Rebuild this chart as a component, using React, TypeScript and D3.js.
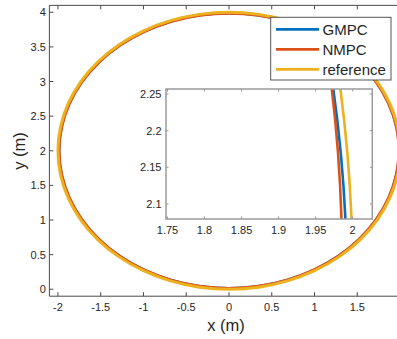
import React from "react";
import * as d3 from "d3";

// Reference trajectory (circle), sampled points
const refX = [2.0, 1.9696, 1.8794, 1.7321, 1.5321, 1.2856, 1.0, 0.684, 0.3473, 0.0, -0.3473, -0.684, -1.0, -1.2856, -1.5321, -1.7321, -1.8794, -1.9696, -2.0, -1.9696, -1.8794, -1.7321, -1.5321, -1.2856, -1.0, -0.684, -0.3473, 0.0, 0.3473, 0.684, 1.0, 1.2856, 1.5321, 1.7321, 1.8794, 1.9696];
const refY = [2.0, 2.3473, 2.684, 3.0, 3.2856, 3.5321, 3.7321, 3.8794, 3.9696, 4.0, 3.9696, 3.8794, 3.7321, 3.5321, 3.2856, 3.0, 2.684, 2.3473, 2.0, 1.6527, 1.316, 1.0, 0.7144, 0.4679, 0.2679, 0.1206, 0.0304, 0.0, 0.0304, 0.1206, 0.2679, 0.4679, 0.7144, 1.0, 1.316, 1.6527];

const gmpcX = [1.992, 1.9598, 1.87, 1.7234, 1.5244, 1.2792, 0.995, 0.6806, 0.3456, 0.0, -0.3456, -0.6806, -0.995, -1.2792, -1.5244, -1.7234, -1.87, -1.9598, -1.99, -1.9598, -1.87, -1.7234, -1.5244, -1.2792, -0.995, -0.6806, -0.3456, 0.0, 0.3456, 0.6806, 0.995, 1.2792, 1.5244, 1.7234, 1.87, 1.9598];
const gmpcY = [2.0, 2.3456, 2.6806, 2.995, 3.2792, 3.5244, 3.7234, 3.87, 3.9598, 3.99, 3.9598, 3.87, 3.7234, 3.5244, 3.2792, 2.995, 2.6806, 2.3456, 2.0, 1.6544, 1.3194, 1.005, 0.7208, 0.4756, 0.2766, 0.13, 0.0402, 0.01, 0.0402, 0.13, 0.2766, 0.4756, 0.7208, 1.005, 1.3194, 1.6544];

const nmpcX = [1.986, 1.9588, 1.8672, 1.7208, 1.5221, 1.2772, 0.9935, 0.6796, 0.345, 0.0, -0.345, -0.6796, -0.9935, -1.2772, -1.5221, -1.7208, -1.8672, -1.9568, -1.987, -1.9568, -1.8672, -1.7208, -1.5221, -1.2772, -0.9935, -0.6796, -0.345, 0.0, 0.345, 0.6796, 0.9935, 1.2772, 1.5221, 1.7208, 1.8672, 1.9568];
const nmpcY = [2.0, 2.3454, 2.6796, 2.9935, 3.2772, 3.5221, 3.7208, 3.8672, 3.9568, 3.987, 3.9568, 3.8672, 3.7208, 3.5221, 3.2772, 2.9935, 2.6796, 2.345, 2.0, 1.655, 1.3204, 1.0065, 0.7228, 0.4779, 0.2792, 0.1328, 0.0432, 0.013, 0.0432, 0.1328, 0.2792, 0.4779, 0.7228, 1.0065, 1.3204, 1.655];

const seriesNames = ["GMPC", "NMPC", "reference"];
const seriesColors = ["#0072BD", "#D95319", "#EDB120"];

const mainXTicks = [-2, -1.5, -1, -0.5, 0, 0.5, 1, 1.5];
const mainYTicks = [0, 0.5, 1, 1.5, 2, 2.5, 3, 3.5, 4];
const insetXTicks = [1.75, 1.8, 1.85, 1.9, 1.95, 2];
const insetYTicks = [2.1, 2.15, 2.2, 2.25];

const FONT = "'Liberation Sans', Arial, Helvetica, sans-serif";

export default function App() {
  const W = 397, H = 339;
  const x = d3.scaleLinear().domain([-2.1, 2.1]).range([49.4, 408.6]);
  const y = d3.scaleLinear().domain([-0.1, 4.1]).range([296.2, 5.35]);
  const ix = d3.scaleLinear().domain([1.748, 2.0265]).range([166, 372.3]);
  const iy = d3.scaleLinear().domain([2.0794, 2.2569]).range([219, 89]);

  const series = [
    { xs: gmpcX, ys: gmpcY },
    { xs: nmpcX, ys: nmpcY },
    { xs: refX, ys: refY },
  ];

  const mkLine = (sx: any, sy: any) =>
    d3
      .line<[number, number]>()
      .x((d) => sx(d[0]))
      .y((d) => sy(d[1]))
      .curve(d3.curveCatmullRomClosed.alpha(0.5));

  const mainLine = mkLine(x, y);
  const insetLine = mkLine(ix, iy);
  const pts = (s: { xs: number[]; ys: number[] }) =>
    s.xs.map((v, i) => [v, s.ys[i]] as [number, number]);

  const axisColor = "#4a4a4a";
  const insetAxisColor = "#9a9a9a";
  const textColor = "#262626";
  const [x0, x1] = x.range();
  const [y0, y1] = y.range();
  const [ix0, ix1] = ix.range();
  const [iy0, iy1] = iy.range();

  return (
    <svg width={W} height={H} style={{ position: "absolute", left: 0, top: 0, background: "#fff" }}>
      <defs>
        <clipPath id="insetClip">
          <rect x={ix0} y={iy1} width={ix1 - ix0} height={iy0 - iy1} />
        </clipPath>
      </defs>
      <rect x={0} y={0} width={W} height={H} fill="#fff" />
      {/* main curves */}
      {series.map((s, i) => (
        <path key={i} d={mainLine(pts(s)) || ""} fill="none" stroke={seriesColors[i]} strokeWidth={3} />
      ))}
      {/* main axes box */}
      <g stroke={axisColor} strokeWidth={1} fill="none">
        <line x1={x0} x2={x1} y1={y0} y2={y0} />
        <line x1={x0} x2={x1} y1={y1} y2={y1} />
        <line x1={x0} x2={x0} y1={y0} y2={y1} />
        <line x1={x1} x2={x1} y1={y0} y2={y1} />
        {mainXTicks.map((t) => (
          <g key={t}>
            <line x1={x(t)} x2={x(t)} y1={y0} y2={y0 - 4} />
            <line x1={x(t)} x2={x(t)} y1={y1} y2={y1 + 4} />
          </g>
        ))}
        {mainYTicks.map((t) => (
          <g key={t}>
            <line x1={x0} x2={x0 + 4} y1={y(t)} y2={y(t)} />
            <line x1={x1} x2={x1 - 4} y1={y(t)} y2={y(t)} />
          </g>
        ))}
      </g>
      <g fontFamily={FONT} fontSize={11} fill={textColor}>
        {mainXTicks.map((t) => (
          <text key={t} x={x(t)} y={y0 + 14.5} textAnchor="middle">
            {String(t)}
          </text>
        ))}
        {mainYTicks.map((t) => (
          <text key={t} x={x0 - 3.5} y={y(t)} textAnchor="end" dominantBaseline="central">
            {String(t)}
          </text>
        ))}
      </g>
      <text x={226} y={331} fontFamily={FONT} fontSize={16.5} fill={textColor} textAnchor="middle">
        x (m)
      </text>
      <text
        transform={`translate(25,151) rotate(-90)`}
        fontFamily={FONT}
        fontSize={16.5}
        fill={textColor}
        textAnchor="middle"
      >
        y (m)
      </text>

      {/* inset */}
      <rect x={ix0} y={iy1} width={ix1 - ix0} height={iy0 - iy1} fill="#fff" />
      <g clipPath="url(#insetClip)">
        {series.map((s, i) => (
          <path key={i} d={insetLine(pts(s)) || ""} fill="none" stroke={seriesColors[i]} strokeWidth={2.6} />
        ))}
      </g>
      <g stroke={insetAxisColor} strokeWidth={1.5} fill="none">
        <rect x={ix0} y={iy1} width={ix1 - ix0} height={iy0 - iy1} />
      </g>
      <g stroke={insetAxisColor} strokeWidth={1} fill="none">
        {insetXTicks.map((t) => (
          <g key={t}>
            <line x1={ix(t)} x2={ix(t)} y1={iy0} y2={iy0 - 2.5} />
            <line x1={ix(t)} x2={ix(t)} y1={iy1} y2={iy1 + 2.5} />
          </g>
        ))}
        {insetYTicks.map((t) => (
          <g key={t}>
            <line x1={ix0} x2={ix0 + 2.5} y1={iy(t)} y2={iy(t)} />
            <line x1={ix1} x2={ix1 - 2.5} y1={iy(t)} y2={iy(t)} />
          </g>
        ))}
      </g>
      <g fontFamily={FONT} fontSize={11} fill={textColor}>
        {insetXTicks.map((t) => (
          <text key={t} x={ix(t)} y={iy0 + 14.5} textAnchor="middle">
            {String(t)}
          </text>
        ))}
        {insetYTicks.map((t) => (
          <text key={t} x={ix0 - 4.5} y={iy(t)} textAnchor="end" dominantBaseline="central">
            {String(t)}
          </text>
        ))}
      </g>

      {/* legend */}
      <rect x={270.7} y={17.3} width={120.3} height={62.7} fill="#fff" stroke="#555" strokeWidth={1} />
      {seriesNames.map((n, i) => (
        <g key={n}>
          <line x1={276} x2={319} y1={29.3 + i * 20} y2={29.3 + i * 20} stroke={seriesColors[i]} strokeWidth={2.8} />
          <text x={322.5} y={29.3 + i * 20} dominantBaseline="central" fontFamily={FONT} fontSize={15} fill={textColor}>
            {n}
          </text>
        </g>
      ))}
    </svg>
  );
}
